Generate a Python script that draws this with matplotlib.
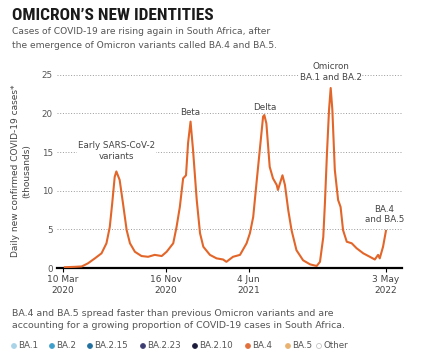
import matplotlib
matplotlib.use("Agg")
import matplotlib.pyplot as plt
import matplotlib.patches as mpatches
import pandas as pd

dates = ["2020-03-15","2020-04-08","2020-04-25","2020-05-10","2020-05-27","2020-06-12",
         "2020-06-24","2020-07-02","2020-07-08","2020-07-14","2020-07-18","2020-07-26",
         "2020-08-03","2020-08-12","2020-08-20","2020-09-01","2020-09-17","2020-10-03",
         "2020-10-19","2020-11-05","2020-11-17","2020-12-03","2020-12-11","2020-12-19",
         "2020-12-27","2021-01-03","2021-01-08","2021-01-14","2021-01-20","2021-01-29",
         "2021-02-06","2021-02-14","2021-03-02","2021-03-18","2021-04-03","2021-04-11",
         "2021-04-27","2021-05-14","2021-05-30","2021-06-07","2021-06-15","2021-06-23",
         "2021-07-01","2021-07-09","2021-07-12","2021-07-17","2021-07-25","2021-08-02",
         "2021-08-11","2021-08-14","2021-08-25","2021-08-31","2021-09-08","2021-09-16",
         "2021-09-28","2021-10-14","2021-10-31","2021-11-16","2021-11-24","2021-12-02",
         "2021-12-06","2021-12-11","2021-12-16","2021-12-20","2021-12-24","2021-12-30",
         "2022-01-07","2022-01-13","2022-01-19","2022-01-28","2022-02-09","2022-02-21",
         "2022-03-09","2022-03-25","2022-04-06","2022-04-14","2022-04-18","2022-04-26",
         "2022-05-03"]
cases = [0.1,0.15,0.2,0.6,1.25,1.9,
         3.2,5.3,8.4,11.8,12.5,11.4,
         8.4,4.9,3.2,2.1,1.55,1.45,
         1.7,1.55,2.1,3.2,5.3,7.9,
         11.6,12.0,16.2,18.95,15.3,8.8,
         4.5,2.75,1.7,1.25,1.1,0.8,
         1.45,1.7,3.2,4.5,6.6,11.0,
         15.3,19.6,19.8,18.7,13.1,11.6,
         10.75,10.1,12.0,10.75,7.5,4.9,
         2.3,1.0,0.47,0.26,0.8,4.0,
         8.4,14.9,20.5,23.3,20.5,12.7,
         8.8,7.9,4.9,3.4,3.2,2.55,
         1.9,1.45,1.1,1.7,1.25,2.75,
         4.8]

tick_dates = ["2020-03-10", "2020-11-16", "2021-06-04", "2022-05-03"]
tick_labels = ["10 Mar\n2020", "16 Nov\n2020", "4 Jun\n2021", "3 May\n2022"]
yticks = [0, 5, 10, 15, 20, 25]

annotations = [("Early SARS-CoV-2\nvariants", "2020-07-18", 13.9),
               ("Beta", "2021-01-14", 19.5),
               ("Delta", "2021-07-12", 20.2),
               ("Omicron\nBA.1 and BA.2", "2021-12-20", 24.1),
               ("BA.4\nand BA.5", "2022-04-29", 5.7)]

legend_labels = ["BA.1", "BA.2", "BA.2.15", "BA.2.23", "BA.2.10", "BA.4", "BA.5", "Other"]
legend_colors = ["#a9d3e6", "#3f9fcc", "#21709f", "#3e3d72", "#1b1a3a", "#e2703c", "#e9b271", "#ffffff"]

W, H = 421, 361
plt.rcParams['font.family'] = ['DejaVu Sans']
fig = plt.figure(figsize=(W/100, H/100), dpi=100)

def fx(px): return px / W
def fy(py): return 1 - py / H

ax = fig.add_axes([fx(57), fy(268), fx(402) - fx(57), fy(71) - fy(268)])
x = pd.to_datetime(dates)
ax.plot(x, cases, color="#e2662a", lw=1.5, solid_joinstyle="round", zorder=3)

base = pd.Timestamp("2020-03-10")
ax.set_xlim(base - pd.Timedelta(days=14), base + pd.Timedelta(days=823))
ax.set_ylim(0, 25.5)
ax.set_yticks(yticks)
ax.set_yticklabels([str(v) for v in yticks], color="#555555", fontsize=6.3)
ax.tick_params(axis="y", length=0, pad=3)
ax.set_xticks(pd.to_datetime(tick_dates))
ax.set_xticklabels(tick_labels, color="#444444", fontsize=6.5, linespacing=1.25)
ax.tick_params(axis="x", length=3, width=0.8, color="black", pad=2)
for s in ["top", "right", "left"]:
    ax.spines[s].set_visible(False)
ax.spines["bottom"].set_linewidth(1.6)
ax.spines["bottom"].set_color("black")
for v in yticks[1:]:
    ax.axhline(v, color="#9a9a9a", lw=0.7, ls=(0, (1, 1.8)), zorder=1)

for txt, d, yv in annotations:
    ax.text(pd.Timestamp(d), yv, txt, ha="center", va="bottom", fontsize=6.3,
            color="#444444", linespacing=1.2, zorder=4,
            bbox=dict(facecolor="white", edgecolor="none", pad=0.5))

fig.text(fx(21), fy(171), "Daily new confirmed COVID-19 cases*\n(thousands)", rotation=90,
         ha="center", va="center", fontsize=6.5, color="#444444", linespacing=1.3,
         multialignment="center")

fig.text(fx(12), fy(16), "OMICRON\u2019S NEW IDENTITIES", fontsize=12.5, fontweight="bold",
         color="#1a1a1a", va="center", ha="left",
         family=["Liberation Sans Narrow", "Roboto Condensed", "DejaVu Sans"])
fig.text(fx(12), fy(32), "Cases of COVID-19 are rising again in South Africa, after",
         fontsize=6.6, color="#555555", va="center")
fig.text(fx(12), fy(45), "the emergence of Omicron variants called BA.4 and BA.5.",
         fontsize=6.6, color="#555555", va="center")

fig.text(fx(12), fy(313), "BA.4 and BA.5 spread faster than previous Omicron variants and are",
         fontsize=6.75, color="#555555", va="center")
fig.text(fx(12), fy(326), "accounting for a growing proportion of COVID-19 cases in South Africa.",
         fontsize=6.75, color="#555555", va="center")

leg_x = [14, 52, 90, 143, 195, 248, 288, 319]
for lx, lab, col in zip(leg_x, legend_labels, legend_colors):
    fig.patches.append(mpatches.Ellipse((fx(lx), fy(346)), 5/W, 5/H,
                       transform=fig.transFigure, facecolor=col,
                       edgecolor="#bbbbbb" if col == "#ffffff" else col, lw=0.5))
    fig.text(fx(lx + 4), fy(346), lab, fontsize=6.3, color="#555555", va="center")

fig.savefig("out.png", dpi=100)
